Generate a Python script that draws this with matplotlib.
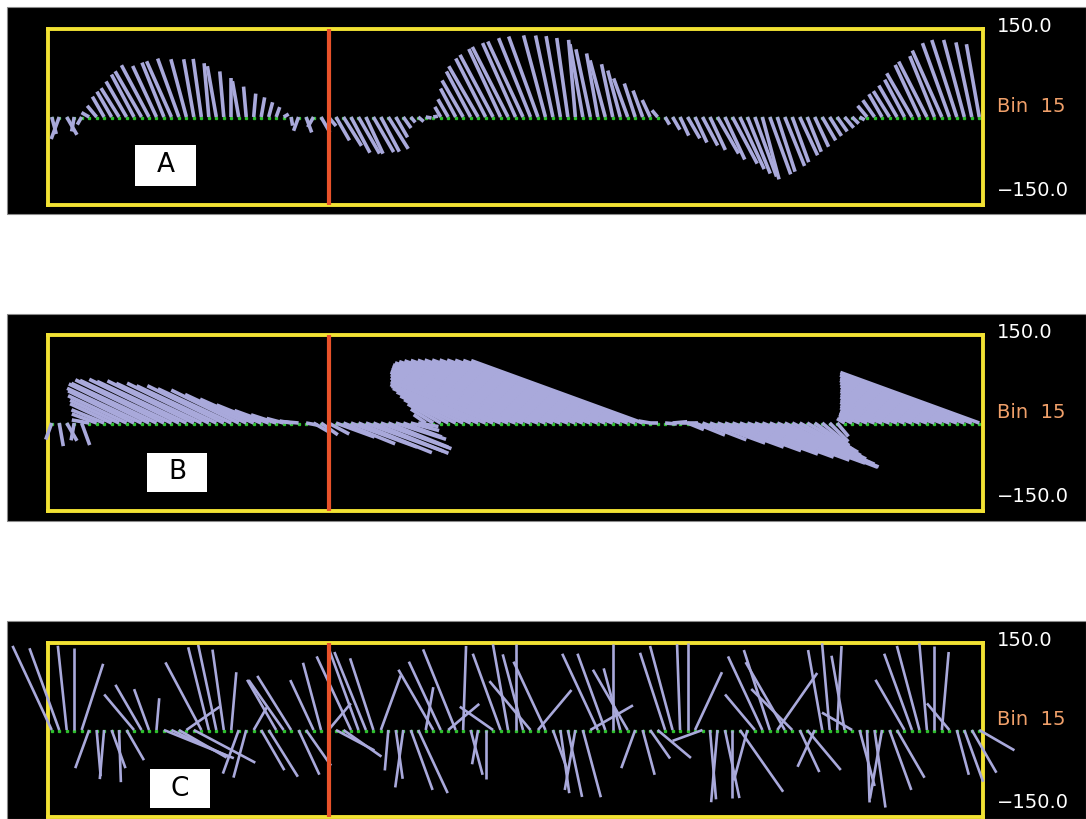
import numpy as np
import matplotlib
matplotlib.use("Agg")
import matplotlib.pyplot as plt
from matplotlib.collections import LineCollection
from matplotlib.patches import Rectangle

# ---------------- data: current sticks, speed (cm/s) and heading (deg from north) ----------------
# one stick every 0.4 h, 50 h record, red marker at hour 15
t_hours = 0.2 + 0.4 * np.arange(125)
marker_hour = 15.0

speed_a = [30, 40, 35, 25, 15,
           15, 25, 40, 50, 58, 70, 82, 90, 100, 96, 100, 104, 106, 102, 100, 100, 92, 88, 78, 66,
           62, 52, 40, 34, 26, 18, 10,
           15, 25, 28, 20, 30, 20,
           46, 58, 69, 72, 69, 69, 67, 64, 40, 23, 12,
           12, 10, 8,
           20, 35, 55, 72, 88, 100, 112, 120, 128, 134, 138, 142, 145, 146, 144, 142, 140, 136, 132, 126,
           118, 110, 100, 92, 82, 70, 60, 48, 32, 15,
           15, 25, 35, 42, 48, 55, 62, 72, 80, 90, 98, 104, 108, 110, 104, 98, 90, 82, 72, 64,
           56, 46, 38, 30, 24, 16, 10,
           25, 35, 45, 52, 62, 72, 86, 98, 106, 112, 124, 134, 138, 136, 130, 126]
dir_a = [165, 200, 150, 190, 210,
         300, 320, 330, 330, 328, 330, 332, 330, 332, 335, 338, 336, 340, 345, 350, 352, 355, 350, 355, 0,
         350, 355, 5, 10, 15, 20, 60,
         170, 200, 160, 210, 150, 140,
         150, 148, 152, 150, 155, 150, 152, 148, 150, 145, 140,
         130, 100, 80,
         330, 330, 332, 330, 332, 330, 333, 332, 335, 333, 336, 335, 338, 340, 345, 348, 350, 352, 355, 350,
         348, 350, 345, 348, 345, 340, 342, 340, 335, 320,
         150, 150, 155, 150, 155, 152, 155, 150, 155, 152, 155, 158, 160, 165, 160, 162, 158, 160, 155, 158,
         155, 150, 148, 145, 140, 135, 120,
         320, 325, 330, 328, 330, 332, 330, 335, 333, 338, 336, 340, 342, 345, 348, 350]

speed_b = [30, 40, 35, 30, 40,
           30, 45, 60, 78, 92, 110, 125, 140, 152, 160, 168, 172, 170, 168, 164, 160, 155, 150, 145, 138,
           128, 115, 100, 82, 62, 45, 30, 20,
           25, 20, 30, 35, 40,
           70, 95, 120, 135, 140, 138, 128, 110, 90, 70, 50, 35,
           25, 45, 65, 85, 105, 125, 145, 160, 175, 188, 200, 214, 226, 240, 254, 266, 278, 290, 300, 306,
           310, 312, 313, 314, 314, 314, 314, 313, 312, 311,
           20, 15, 20, 25, 30,
           30, 55, 80, 100, 120, 138, 155, 170, 185, 200, 210, 200, 180, 160, 140, 118, 100, 80, 60, 45, 30,
           15, 25, 38, 50, 62, 76, 89, 103, 116, 130, 143, 157, 170, 184, 198, 212, 225, 239, 252]
dir_b = [200, 170, 150, 190, 160,
         280, 290, 292, 295, 295, 295, 296, 295, 296, 295, 296, 295, 296, 295, 296, 295, 296, 295, 296, 295,
         296, 295, 294, 292, 290, 288, 285, 280,
         275, 100, 120, 125, 118,
         110, 112, 110, 112, 110, 112, 110, 112, 108, 110, 105, 100,
         305, 302, 300, 298, 296, 295, 294, 293, 292, 292, 291, 291, 290, 290, 290, 290, 290, 290, 290, 290,
         290, 290, 290, 290, 290, 290, 290, 290, 290, 290,
         280, 270, 95, 85, 90,
         112, 112, 111, 110, 110, 110, 110, 110, 110, 110, 111, 112, 113, 115, 116, 118, 120, 125, 130, 135, 140,
         300, 295, 292, 291, 290, 290, 290, 290, 290, 290, 290, 290, 290, 290, 290, 290, 290, 290, 290]

speed_c = [160, 150, 146, 142, 120, 70, 80, 85, 70, 90,
           60, 80, 90, 75, 55, 130, 110, 95, 70, 120,
           132, 147, 150, 140, 100, 80, 85, 45, 80, 95,
           100, 105, 110, 85, 75, 95, 120, 60, 75, 80,
           140, 150, 145, 130, 100, 70, 85, 100, 110, 120,
           75, 120, 130, 70, 150, 145, 80, 60, 85, 70,
           140, 150, 148, 135, 110, 90, 130, 75, 110, 118,
           105, 120, 85, 145, 140, 148, 110, 120, 70, 80,
           60, 75, 140, 150, 148, 150, 110, 55, 120, 125,
           120, 118, 130, 90, 80, 140, 145, 120, 135, 100,
           80, 90, 70, 140, 150, 145, 130, 60, 100, 125,
           135, 120, 110, 95, 100, 140, 150, 150, 145, 135,
           60, 80, 95, 85, 70]
dir_c = [335, 340, 354, 0, 18, 200, 175, 185, 160, 178,
         150, 320, 330, 340, 5, 112, 115, 120, 55, 118,
         332, 346, 348, 352, 5, 200, 195, 30, 150, 148,
         330, 325, 328, 155, 145, 335, 345, 40, 118, 125,
         335, 340, 338, 342, 20, 185, 172, 188, 160, 155,
         10, 330, 335, 50, 338, 2, 165, 190, 180, 305,
         340, 350, 0, 345, 320, 40, 335, 160, 172, 168,
         190, 165, 60, 335, 340, 0, 345, 330, 200, 165,
         145, 130, 342, 345, 358, 0, 25, 250, 175, 185,
         168, 180, 145, 195, 320, 335, 342, 35, 330, 315,
         155, 140, 205, 350, 355, 3, 350, 300, 165, 178,
         172, 190, 160, 150, 330, 340, 345, 355, 0, 5,
         320, 165, 160, 150, 120]

panel_labels = ["A", "B", "C"]
top_label = "150.0"
bottom_label = "\u2212150.0"
bin_label = "Bin  15"

# ---------------- layout (pixels of the 1086 x 819 picture) ----------------
W, H = 1086, 819
bg_boxes = [(7, 7, 214), (7, 314, 521), (7, 621, 819)]       # x0, top, bottom
ax_boxes = [(48, 29, 983, 205), (48, 335, 983, 511), (48, 643, 983, 817)]
letter_boxes = [(135, 145, 196, 186), (147, 453, 207, 492), (150, 769, 210, 808)]
stick_widths = [2.6, 2.6, 1.9]

stick_col = '#a9a9db'
yellow = '#f2e233'
red = '#e8522a'
orange = '#f0a06a'

fig = plt.figure(figsize=(W / 100, H / 100), dpi=100)
fig.patch.set_facecolor('white')

for x0, top, bot in bg_boxes:
    fig.add_artist(Rectangle((x0 / W, 1 - bot / H), (W - x0) / W, (bot - top) / H,
                             transform=fig.transFigure, facecolor='black',
                             edgecolor='#8a8a8a', linewidth=0.8, zorder=-5))

panels = [(speed_a, dir_a), (speed_b, dir_b), (speed_c, dir_c)]

for n, ((spd, hdg), (l, tp, r, bt)) in enumerate(zip(panels, ax_boxes)):
    ax = fig.add_axes([l / W, 1 - bt / H, (r - l) / W, (bt - tp) / H])
    ax.set_facecolor('black')
    ax.set_xlim(0, 50)
    ax.set_ylim(-150, 150)
    ax.set_xticks([])
    ax.set_yticks([])
    for sp in ax.spines.values():
        sp.set_color(yellow)
        sp.set_linewidth(2.8)
        sp.set_zorder(2)

    spd = np.array(spd, float)
    hdg = np.radians(np.array(hdg, float))
    u = spd * np.sin(hdg)
    v = spd * np.cos(hdg)
    # keep true stick angles: convert u (cm/s) into hours on the x axis
    k = ((bt - tp) / 300.0) / ((r - l) / 50.0)
    segs = [[(t, 0), (t + uu * k, vv)] for t, uu, vv in zip(t_hours, u, v)]

    ax.plot(t_hours, np.full(len(t_hours), -2.0), ls='none', marker='s',
            ms=1.4, color='#2fbf2f', zorder=1, clip_on=False)
    lc = LineCollection(segs, colors=stick_col, linewidths=stick_widths[n], zorder=3)
    lc.set_clip_on(False)
    ax.add_collection(lc)

    ax.axvline(marker_hour, color=red, lw=3, zorder=4)

    ax.text(1.015, 1.015, top_label, transform=ax.transAxes, color='white',
            fontsize=14, ha='left', va='center')
    ax.text(1.015, 0.56, bin_label, transform=ax.transAxes, color=orange,
            fontsize=14, ha='left', va='center')
    ax.text(1.015, 0.085, bottom_label, transform=ax.transAxes, color='white',
            fontsize=14, ha='left', va='center')

    bx0, by0, bx1, by1 = letter_boxes[n]
    fig.add_artist(Rectangle((bx0 / W, 1 - by1 / H), (bx1 - bx0) / W, (by1 - by0) / H,
                             transform=fig.transFigure, facecolor='white',
                             edgecolor='none', zorder=5))
    fig.text((bx0 + bx1) / 2 / W, 1 - (by0 + by1) / 2 / H, panel_labels[n],
             ha='center', va='center', fontsize=19, color='black', zorder=6)

fig.savefig('out.png', dpi=100, facecolor='white')
